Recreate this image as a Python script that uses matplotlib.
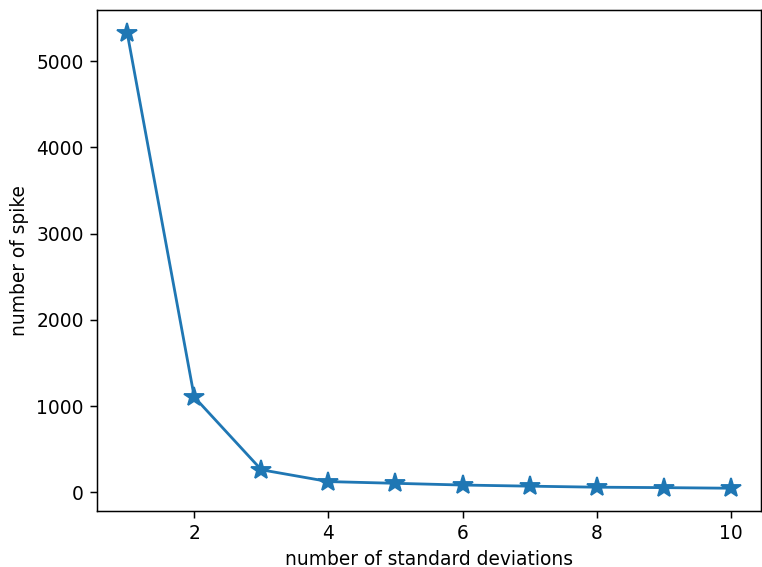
import matplotlib
matplotlib.use("Agg")
import matplotlib.pyplot as plt

n_std = [1, 2, 3, 4, 5, 6, 7, 8, 9, 10]
n_spike = [5330, 1106, 262, 125, 105, 85, 72, 60, 55, 48]

DPI = 134
fig = plt.figure(figsize=(762/DPI, 567/DPI), dpi=DPI)
ax = fig.add_axes([97/762, 1 - 511/567, (761-97)/762, (511-10)/567])
ax.plot(n_std, n_spike, marker='*', markersize=11)
ax.set_xlabel('number of standard deviations')
ax.set_ylabel('number of spike')
fig.savefig('out.png', dpi=DPI)
